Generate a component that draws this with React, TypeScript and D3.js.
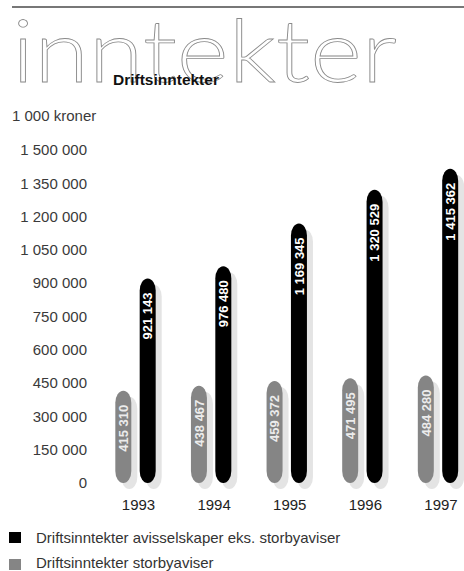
import React from 'react';
import * as d3 from 'd3';

const years = ['1993', '1994', '1995', '1996', '1997'];
const storby = [415310, 438467, 459372, 471495, 484280];
const avis = [921143, 976480, 1169345, 1320529, 1415362];
const yTicks = [0, 150000, 300000, 450000, 600000, 750000, 900000, 1050000, 1200000, 1350000, 1500000];
const seriesNames = ['Driftsinntekter avisselskaper eks. storbyaviser', 'Driftsinntekter storbyaviser'];

const W = 464;
const H = 571;
const fmt = (v: number) => d3.format(',')(v).replace(/,/g, ' ');
const FONT = "'Liberation Sans', Arial, sans-serif";

export default function App() {
  const y = d3.scaleLinear().domain([0, 1500000]).range([483, 150]);
  const x = d3.scalePoint<string>().domain(years).range([135.5, 438]);
  const inner = d3.scaleBand<string>().domain(['storby', 'avis']).range([-19.5, 19.5]).paddingInner(0.4);
  const bw = 16;
  const shadow = 6;

  const bars = years.flatMap((yr, i) => [
    { key: 'storby', yr, v: storby[i], fill: '#858585', label: '#ececec' },
    { key: 'avis', yr, v: avis[i], fill: '#000', label: '#fff' },
  ]);
  const bx = (b: { key: string; yr: string }) => (x(b.yr) as number) + (inner(b.key) as number) + inner.bandwidth() / 2 - bw / 2;

  return (
    <svg width={W} height={H} style={{ position: 'absolute', left: 0, top: 0, background: '#fff' }}>
      <line x1={12} x2={W} y1={7} y2={7} stroke="#777" strokeWidth={2} />
      <text x={12} y={82} fontFamily="Lato, 'Open Sans', sans-serif" fontWeight={300}
        fontSize={86} textLength={385} lengthAdjust="spacingAndGlyphs" fill="#fff" stroke="#8a8a8a" strokeWidth={0.8}>inntekter</text>
      <text x={113} y={85} fontFamily={FONT} fontWeight="bold" fontSize={15.5} fill="#111">Driftsinntekter</text>
      <text x={12} y={121} fontFamily={FONT} fontSize={15} fill="#3a3a3a">1 000 kroner</text>

      {yTicks.map(t => (
        <text key={t} x={87} y={y(t)} dy="0.35em" textAnchor="end" fontFamily={FONT} fontSize={15} fill="#3a3a3a">{fmt(t)}</text>
      ))}

      {bars.map(b => (
        <rect key={'s' + b.key + b.yr} x={bx(b) + shadow} y={y(b.v) + shadow} width={bw} height={y(0) - y(b.v)} rx={bw / 2} ry={12} fill="#e4e4e4" />
      ))}
      {bars.map(b => (
        <g key={b.key + b.yr}>
          <rect x={bx(b)} y={y(b.v)} width={bw} height={y(0) - y(b.v)} rx={bw / 2} ry={12} fill={b.fill} />
          <text transform={`translate(${bx(b) + bw / 2},${y(b.v) + 14}) rotate(-90)`} dy="0.36em" textAnchor="end"
            fontFamily={FONT} fontWeight="bold" fontSize={13} fill={b.label}>{fmt(b.v)}</text>
        </g>
      ))}

      {years.map(yr => (
        <text key={yr} x={(x(yr) as number) + 3} y={510} textAnchor="middle" fontFamily={FONT} fontSize={15} fill="#222">{yr}</text>
      ))}

      <rect x={9} y={532} width={12} height={11} fill="#000" />
      <text x={36} y={543} fontFamily={FONT} fontSize={15} fill="#333">{seriesNames[0]}</text>
      <rect x={9} y={559} width={12} height={11} fill="#858585" />
      <text x={36} y={568} fontFamily={FONT} fontSize={15} fill="#333">{seriesNames[1]}</text>
    </svg>
  );
}
